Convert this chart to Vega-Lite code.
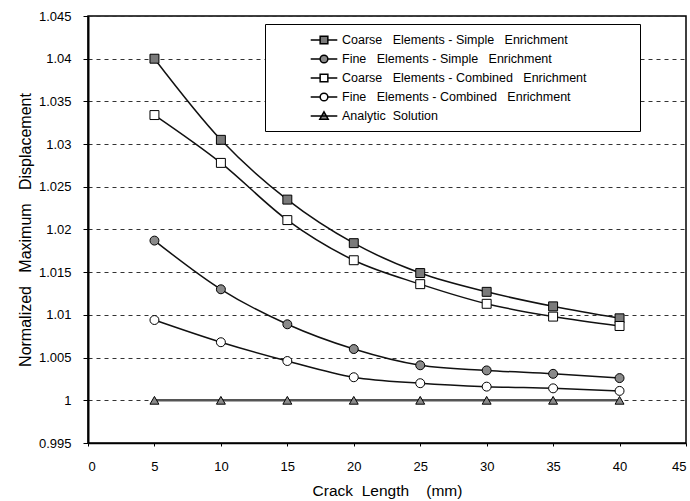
{
  "$schema": "https://vega.github.io/schema/vega-lite/v6.json",
  "autosize": {"type": "none"},
  "padding": {"left": 88, "top": 16, "right": 4, "bottom": 58},
  "width": 598,
  "height": 427,
  "background": "white",
  "config": {
    "font": "Liberation Sans",
    "view": {"stroke": "black", "strokeWidth": 1.5}
  },
  "data": {
    "values": [
      {"series": "Coarse\u00a0\u00a0\u00a0Elements - Simple\u00a0\u00a0\u00a0Enrichment", "x": 5, "y": 1.0400},
      {"series": "Coarse\u00a0\u00a0\u00a0Elements - Simple\u00a0\u00a0\u00a0Enrichment", "x": 10, "y": 1.0305},
      {"series": "Coarse\u00a0\u00a0\u00a0Elements - Simple\u00a0\u00a0\u00a0Enrichment", "x": 15, "y": 1.0235},
      {"series": "Coarse\u00a0\u00a0\u00a0Elements - Simple\u00a0\u00a0\u00a0Enrichment", "x": 20, "y": 1.0184},
      {"series": "Coarse\u00a0\u00a0\u00a0Elements - Simple\u00a0\u00a0\u00a0Enrichment", "x": 25, "y": 1.0149},
      {"series": "Coarse\u00a0\u00a0\u00a0Elements - Simple\u00a0\u00a0\u00a0Enrichment", "x": 30, "y": 1.0127},
      {"series": "Coarse\u00a0\u00a0\u00a0Elements - Simple\u00a0\u00a0\u00a0Enrichment", "x": 35, "y": 1.0110},
      {"series": "Coarse\u00a0\u00a0\u00a0Elements - Simple\u00a0\u00a0\u00a0Enrichment", "x": 40, "y": 1.0096},
      {"series": "Fine\u00a0\u00a0\u00a0Elements - Simple\u00a0\u00a0\u00a0Enrichment", "x": 5, "y": 1.0187},
      {"series": "Fine\u00a0\u00a0\u00a0Elements - Simple\u00a0\u00a0\u00a0Enrichment", "x": 10, "y": 1.0130},
      {"series": "Fine\u00a0\u00a0\u00a0Elements - Simple\u00a0\u00a0\u00a0Enrichment", "x": 15, "y": 1.0089},
      {"series": "Fine\u00a0\u00a0\u00a0Elements - Simple\u00a0\u00a0\u00a0Enrichment", "x": 20, "y": 1.0060},
      {"series": "Fine\u00a0\u00a0\u00a0Elements - Simple\u00a0\u00a0\u00a0Enrichment", "x": 25, "y": 1.0041},
      {"series": "Fine\u00a0\u00a0\u00a0Elements - Simple\u00a0\u00a0\u00a0Enrichment", "x": 30, "y": 1.0035},
      {"series": "Fine\u00a0\u00a0\u00a0Elements - Simple\u00a0\u00a0\u00a0Enrichment", "x": 35, "y": 1.0031},
      {"series": "Fine\u00a0\u00a0\u00a0Elements - Simple\u00a0\u00a0\u00a0Enrichment", "x": 40, "y": 1.0026},
      {"series": "Coarse\u00a0\u00a0\u00a0Elements - Combined\u00a0\u00a0\u00a0Enrichment", "x": 5, "y": 1.0334},
      {"series": "Coarse\u00a0\u00a0\u00a0Elements - Combined\u00a0\u00a0\u00a0Enrichment", "x": 10, "y": 1.0278},
      {"series": "Coarse\u00a0\u00a0\u00a0Elements - Combined\u00a0\u00a0\u00a0Enrichment", "x": 15, "y": 1.0211},
      {"series": "Coarse\u00a0\u00a0\u00a0Elements - Combined\u00a0\u00a0\u00a0Enrichment", "x": 20, "y": 1.0164},
      {"series": "Coarse\u00a0\u00a0\u00a0Elements - Combined\u00a0\u00a0\u00a0Enrichment", "x": 25, "y": 1.0136},
      {"series": "Coarse\u00a0\u00a0\u00a0Elements - Combined\u00a0\u00a0\u00a0Enrichment", "x": 30, "y": 1.0113},
      {"series": "Coarse\u00a0\u00a0\u00a0Elements - Combined\u00a0\u00a0\u00a0Enrichment", "x": 35, "y": 1.0098},
      {"series": "Coarse\u00a0\u00a0\u00a0Elements - Combined\u00a0\u00a0\u00a0Enrichment", "x": 40, "y": 1.0087},
      {"series": "Fine\u00a0\u00a0\u00a0Elements - Combined\u00a0\u00a0\u00a0Enrichment", "x": 5, "y": 1.0094},
      {"series": "Fine\u00a0\u00a0\u00a0Elements - Combined\u00a0\u00a0\u00a0Enrichment", "x": 10, "y": 1.0068},
      {"series": "Fine\u00a0\u00a0\u00a0Elements - Combined\u00a0\u00a0\u00a0Enrichment", "x": 15, "y": 1.0046},
      {"series": "Fine\u00a0\u00a0\u00a0Elements - Combined\u00a0\u00a0\u00a0Enrichment", "x": 20, "y": 1.0027},
      {"series": "Fine\u00a0\u00a0\u00a0Elements - Combined\u00a0\u00a0\u00a0Enrichment", "x": 25, "y": 1.0020},
      {"series": "Fine\u00a0\u00a0\u00a0Elements - Combined\u00a0\u00a0\u00a0Enrichment", "x": 30, "y": 1.0016},
      {"series": "Fine\u00a0\u00a0\u00a0Elements - Combined\u00a0\u00a0\u00a0Enrichment", "x": 35, "y": 1.0014},
      {"series": "Fine\u00a0\u00a0\u00a0Elements - Combined\u00a0\u00a0\u00a0Enrichment", "x": 40, "y": 1.0011},
      {"series": "Analytic\u00a0\u00a0Solution", "x": 5, "y": 1.0},
      {"series": "Analytic\u00a0\u00a0Solution", "x": 10, "y": 1.0},
      {"series": "Analytic\u00a0\u00a0Solution", "x": 15, "y": 1.0},
      {"series": "Analytic\u00a0\u00a0Solution", "x": 20, "y": 1.0},
      {"series": "Analytic\u00a0\u00a0Solution", "x": 25, "y": 1.0},
      {"series": "Analytic\u00a0\u00a0Solution", "x": 30, "y": 1.0},
      {"series": "Analytic\u00a0\u00a0Solution", "x": 35, "y": 1.0},
      {"series": "Analytic\u00a0\u00a0Solution", "x": 40, "y": 1.0}
    ]
  },
  "resolve": {"scale": {"shape": "independent", "fill": "independent"}},
  "encoding": {
    "x": {
      "field": "x", "type": "quantitative",
      "scale": {"domain": [0, 45], "nice": false, "zero": false},
      "axis": {
        "title": "Crack\u00a0\u00a0Length\u00a0\u00a0\u00a0\u00a0(mm)",
        "values": [0, 5, 10, 15, 20, 25, 30, 35, 40, 45],
        "grid": false,
        "domainColor": "black", "domainWidth": 1.5,
        "tickColor": "black", "tickSize": 3,
        "labelColor": "black", "labelFontSize": 13, "labelPadding": 14,
        "titleColor": "black", "titleFontSize": 15.5, "titleFontWeight": "normal",
        "titlePadding": 10
      }
    },
    "y": {
      "field": "y", "type": "quantitative",
      "scale": {"domain": [0.995, 1.045], "nice": false, "zero": false},
      "axis": {
        "title": "Normalized\u00a0\u00a0\u00a0Maximum\u00a0\u00a0\u00a0Displacement",
        "values": [0.995, 1.0, 1.005, 1.01, 1.015, 1.02, 1.025, 1.03, 1.035, 1.04, 1.045],
        "format": ".3~f",
        "grid": true, "gridColor": "#333", "gridDash": [4, 4], "gridWidth": 1,
        "domainColor": "black", "domainWidth": 2,
        "tickColor": "black", "tickSize": 5,
        "labelColor": "black", "labelFontSize": 13, "labelPadding": 12,
        "titleColor": "black", "titleFontSize": 16, "titleFontWeight": "normal",
        "titlePadding": 5
      }
    }
  },
  "layer": [
    {
      "transform": [{"filter": "indexof(datum.series, 'Analytic') < 0"}],
      "mark": {"type": "line", "interpolate": "monotone", "stroke": "#111", "strokeWidth": 1.5},
      "encoding": {"detail": {"field": "series"}}
    },
    {
      "transform": [{"filter": "indexof(datum.series, 'Analytic') >= 0"}],
      "mark": {"type": "line", "stroke": "#555", "strokeWidth": 2.5},
      "encoding": {}
    },
    {
      "mark": {"type": "point", "filled": true, "stroke": "black", "strokeWidth": 1, "opacity": 1, "size": 80},
      "encoding": {
        "shape": {
          "field": "series", "type": "nominal", "legend": null,
          "scale": {
            "domain": ["Coarse\u00a0\u00a0\u00a0Elements - Simple\u00a0\u00a0\u00a0Enrichment", "Fine\u00a0\u00a0\u00a0Elements - Simple\u00a0\u00a0\u00a0Enrichment", "Coarse\u00a0\u00a0\u00a0Elements - Combined\u00a0\u00a0\u00a0Enrichment", "Fine\u00a0\u00a0\u00a0Elements - Combined\u00a0\u00a0\u00a0Enrichment", "Analytic\u00a0\u00a0Solution"],
            "range": ["square", "circle", "square", "circle", "triangle-up"]
          }
        },
        "fill": {
          "field": "series", "type": "nominal", "legend": null,
          "scale": {
            "domain": ["Coarse\u00a0\u00a0\u00a0Elements - Simple\u00a0\u00a0\u00a0Enrichment", "Fine\u00a0\u00a0\u00a0Elements - Simple\u00a0\u00a0\u00a0Enrichment", "Coarse\u00a0\u00a0\u00a0Elements - Combined\u00a0\u00a0\u00a0Enrichment", "Fine\u00a0\u00a0\u00a0Elements - Combined\u00a0\u00a0\u00a0Enrichment", "Analytic\u00a0\u00a0Solution"],
            "range": ["#7a7a7a", "#8a8a8a", "white", "white", "#8a8a8a"]
          }
        }
      }
    },
    {
      "transform": [{"filter": "false"}],
      "mark": {"type": "point", "filled": true, "stroke": "black", "strokeWidth": 1, "opacity": 1},
      "encoding": {
        "shape": {
          "field": "series", "type": "nominal",
          "scale": {
            "domain": ["Coarse\u00a0\u00a0\u00a0Elements - Simple\u00a0\u00a0\u00a0Enrichment", "Fine\u00a0\u00a0\u00a0Elements - Simple\u00a0\u00a0\u00a0Enrichment", "Coarse\u00a0\u00a0\u00a0Elements - Combined\u00a0\u00a0\u00a0Enrichment", "Fine\u00a0\u00a0\u00a0Elements - Combined\u00a0\u00a0\u00a0Enrichment", "Analytic\u00a0\u00a0Solution"],
            "range": [
              "M-1.9,0H-0.55M0.55,0H1.9M-0.55,-0.55H0.55V0.55H-0.55Z",
              "M-1.9,0H-0.55M0.55,0H1.9M0.55,0A0.55,0.55 0 1,1 -0.55,0A0.55,0.55 0 1,1 0.55,0Z",
              "M-1.9,0H-0.55M0.55,0H1.9M-0.55,-0.55H0.55V0.55H-0.55Z",
              "M-1.9,0H-0.55M0.55,0H1.9M0.55,0A0.55,0.55 0 1,1 -0.55,0A0.55,0.55 0 1,1 0.55,0Z",
              "M-1.9,0H1.9M0,-0.6L0.6,0.45L-0.6,0.45Z"
            ]
          },
          "legend": {
            "title": null,
            "orient": "none", "legendX": 177, "legendY": 8,
            "strokeColor": "black", "fillColor": "white",
            "padding": 8,
            "rowPadding": 4,
            "labelFontSize": 12.5, "labelColor": "black",
            "labelLimit": 600,
            "labelExpr": "datum.label + '\u00a0\u00a0\u00a0\u00a0\u00a0\u00a0\u00a0\u00a0\u00a0\u00a0\u00a0\u00a0\u00a0\u200b'",
            "symbolSize": 196,
            "symbolOffset": 43,
            "labelOffset": 10,
            "encode": {
              "symbols": {
                "stroke": {"value": "black"},
                "strokeWidth": {"value": 1}
              }
            }
          }
        },
        "fill": {
          "field": "series", "type": "nominal",
          "scale": {
            "domain": ["Coarse\u00a0\u00a0\u00a0Elements - Simple\u00a0\u00a0\u00a0Enrichment", "Fine\u00a0\u00a0\u00a0Elements - Simple\u00a0\u00a0\u00a0Enrichment", "Coarse\u00a0\u00a0\u00a0Elements - Combined\u00a0\u00a0\u00a0Enrichment", "Fine\u00a0\u00a0\u00a0Elements - Combined\u00a0\u00a0\u00a0Enrichment", "Analytic\u00a0\u00a0Solution"],
            "range": ["#7a7a7a", "#8a8a8a", "white", "white", "#8a8a8a"]
          },
          "legend": {
            "title": null,
            "orient": "none", "legendX": 177, "legendY": 8,
            "strokeColor": "black", "fillColor": "white",
            "padding": 8,
            "rowPadding": 4,
            "labelFontSize": 12.5, "labelColor": "black",
            "labelLimit": 600,
            "labelExpr": "datum.label + '\u00a0\u00a0\u00a0\u00a0\u00a0\u00a0\u00a0\u00a0\u00a0\u00a0\u00a0\u00a0\u00a0\u200b'",
            "symbolSize": 196,
            "symbolOffset": 43,
            "labelOffset": 10
          }
        }
      }
    }
  ]
}
